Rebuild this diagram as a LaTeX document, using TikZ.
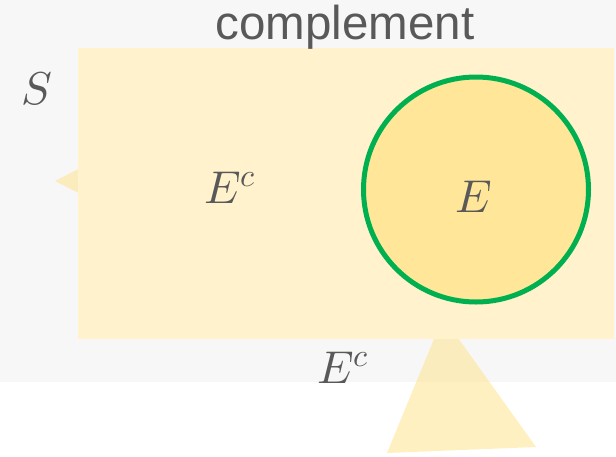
\documentclass[tikz,border=0pt]{standalone}
\usepackage{fontspec}
\usepackage{unicode-math}
\setmathfont{Latin Modern Math}
\setsansfont{Liberation Sans}
\begin{document}
\begin{tikzpicture}[x=1pt,y=-1pt,
  txt/.style={text=textgray,inner sep=0pt,anchor=center},
  mathlabel/.style={txt,font=\fontsize{46}{50}\selectfont},
  pointer/.style={fill=ptryellow,fill opacity=0.6,draw=none}]
\definecolor{bggray}{HTML}{F7F7F7}
\definecolor{rectyellow}{HTML}{FFF2CC}
\definecolor{ptryellow}{HTML}{FFE699}
\definecolor{circfill}{HTML}{FFE699}
\definecolor{circgreen}{HTML}{00B050}
\definecolor{textgray}{HTML}{595959}
\useasboundingbox (0,0) rectangle (616,456);
\fill[white] (0,0) rectangle (616,456);
\fill[bggray] (0,0) rectangle (616,382);
% pointer triangles (behind the rectangle)
\path[pointer] (55,181) -- (100,158) -- (100,204) -- cycle;
\path[pointer] (443,317) -- (536,447) -- (387,453) -- cycle;
% sample space rectangle
\fill[rectyellow] (78,48) rectangle (614,339);
% event circle
\draw[circgreen,line width=5pt,fill=circfill] (476,189.5) circle[radius=112.5];
% labels
\node[txt,font=\sffamily\fontsize{47.5}{52}\selectfont] (title) at (345,27) {complement};
\node[mathlabel] (S) at (37,89) {$S$};
\node[mathlabel] (Ecin) at (230,188) {$E^c$};
\node[mathlabel] (E) at (474,197) {$E$};
\node[mathlabel] (Ecout) at (343,368) {$E^c$};
\end{tikzpicture}
\end{document}
